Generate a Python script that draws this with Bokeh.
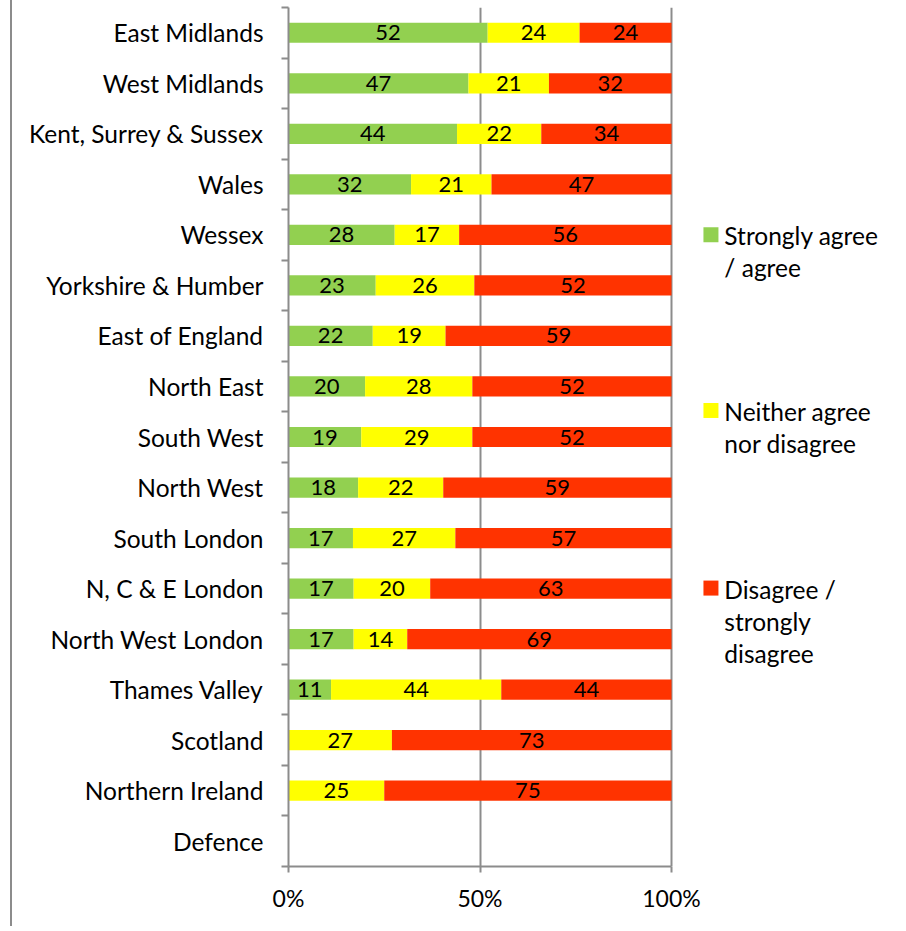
from bokeh.plotting import figure
from bokeh.models import (Range1d, FixedTicker, NumeralTickFormatter, ColumnDataSource, Div)
from bokeh.layouts import row
from bokeh.core.properties import value
from bokeh.embed import file_html
from bokeh.resources import INLINE

regions = ["East Midlands", "West Midlands", "Kent, Surrey & Sussex", "Wales", "Wessex",
           "Yorkshire & Humber", "East of England", "North East", "South West", "North West",
           "South London", "N, C & E London", "North West London", "Thames Valley",
           "Scotland", "Northern Ireland", "Defence"]
agree    = [52, 47, 44, 32, 28, 23, 22, 20, 19, 18, 17, 17, 17, 11, 0, 0, 0]
neither  = [24, 21, 22, 21, 17, 26, 19, 28, 29, 22, 27, 20, 14, 44, 27, 25, 0]
disagree = [24, 32, 34, 47, 56, 52, 59, 52, 52, 59, 57, 63, 69, 44, 73, 75, 0]
series_lines = [["Strongly agree", "/ agree"],
                ["Neither agree", "nor disagree"],
                ["Disagree /", "strongly", "disagree"]]
colors = ["#92D050", "#FFFF00", "#FF3300"]
x_ticks = [0, 0.5, 1.0]

FONT = "Lato"
FS_CAT = "24.5px"
FS_NUM = "22px"
FS_X = "23px"
GRAY = "#8C8C8C"

PX_PER_UNIT = 383      # pixels for 100 %
FRAME_W = 606
FRAME_H = 859

n = len(regions)
ypos = [n - 1 - i for i in range(n)]
series = [agree, neither, disagree]

p = figure(frame_width=FRAME_W, frame_height=FRAME_H, output_backend="svg", toolbar_location=None,
           x_range=Range1d(0, FRAME_W / PX_PER_UNIT), y_range=Range1d(-0.5, n - 0.5),
           min_border_left=276, min_border_right=0, min_border_top=7, min_border_bottom=58)
p.outline_line_color = None
p.background_fill_color = "white"
p.border_fill_color = "white"

# stacked (100 %) bars with value labels
cum = [0.0] * n
for vals, col in zip(series, colors):
    lefts, rights, ys, mids, labels = [], [], [], [], []
    for i in range(n):
        tot = agree[i] + neither[i] + disagree[i]
        if vals[i] <= 0 or tot == 0:
            continue
        l = cum[i]
        r = cum[i] + vals[i] / tot
        cum[i] = r
        lefts.append(l); rights.append(r); ys.append(ypos[i])
        mids.append((l + r) / 2); labels.append(str(vals[i]))
    src = ColumnDataSource(dict(left=lefts, right=rights, y=ys, mid=mids, label=labels))
    p.hbar(y="y", left="left", right="right", height=0.4, source=src,
           fill_color=col, line_color=None)
    p.text(x="mid", y="y", text="label", source=src, text_align="center",
           text_baseline="middle", text_font=value(FONT), text_font_size=FS_NUM,
           text_color="black")

# x axis
xa = p.xaxis[0]
xa.ticker = FixedTicker(ticks=x_ticks)
xa.formatter = NumeralTickFormatter(format="0%")
xa.bounds = (0, 1)
xa.axis_line_color = GRAY
xa.axis_line_width = 2
xa.major_tick_line_color = GRAY
xa.major_tick_line_width = 2
xa.major_tick_out = 6
xa.major_tick_in = 0
xa.minor_tick_line_color = None
xa.major_label_text_font = FONT
xa.major_label_text_font_size = FS_X
xa.major_label_text_color = "black"
xa.major_label_standoff = 11

# y axis: labels at category centres, ticks at category boundaries
ya = p.yaxis[0]
ya.ticker = FixedTicker(ticks=ypos, minor_ticks=[k - 0.5 for k in range(n + 1)])
ya.major_label_overrides = {ypos[i]: regions[i] for i in range(n)}
ya.axis_line_color = GRAY
ya.axis_line_width = 2
ya.major_tick_line_color = None
ya.major_tick_out = 0
ya.major_tick_in = 0
ya.minor_tick_line_color = GRAY
ya.minor_tick_line_width = 2
ya.minor_tick_out = 7
ya.minor_tick_in = 0
ya.major_label_text_font = FONT
ya.major_label_text_font_size = FS_CAT
ya.major_label_text_color = "black"
ya.major_label_standoff = 18

p.xgrid.ticker = FixedTicker(ticks=x_ticks)
p.xgrid.grid_line_color = GRAY
p.xgrid.grid_line_width = 2
p.ygrid.grid_line_color = None

# legend (drawn to the right of the 100 % line)
sq_x = 1.103
txt_x = 1.138
first_line_y = [11.985, 8.505, 4.99]
line_step = 0.64
for lines, col, y0 in zip(series_lines, colors, first_line_y):
    p.scatter(x=[sq_x], y=[y0 + 0.02], marker="square", size=15,
              fill_color=col, line_color=None)
    p.text(x=[txt_x] * len(lines), y=[y0 - line_step * k for k in range(len(lines))],
           text=lines, text_align="left", text_baseline="middle",
           text_font=value(FONT), text_font_size=FS_CAT, text_color="black")

# chart-area left border
border = Div(width=2, height=926, margin=(0, 0, 0, 10),
             styles={"background-color": GRAY})

layout = row(border, p)
open("out.html", "w").write(file_html(layout, INLINE))
